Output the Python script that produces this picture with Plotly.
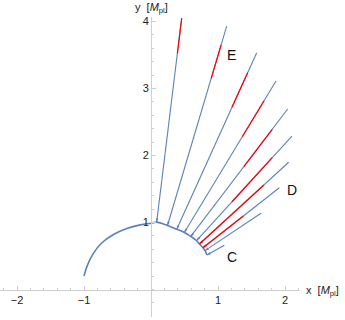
import math
import plotly.graph_objects as go

# ---- data ----
# unit-circle-like arc (field-space boundary)
arc_x = [-1.00, -0.95, -0.86, -0.74, -0.56, -0.36, -0.16, 0.00, 0.085, 0.246, 0.384, 0.497, 0.594, 0.680, 0.724, 0.776, 0.806, 0.836]
arc_y = [0.20, 0.36, 0.54, 0.69, 0.82, 0.91, 0.965, 0.99, 1.005, 0.955, 0.900, 0.852, 0.792, 0.730, 0.680, 0.624, 0.580, 0.515]

# trajectories: start on the arc, end outside
start_x = [0.085, 0.246, 0.384, 0.497, 0.594, 0.680, 0.724, 0.776, 0.806, 0.836]
start_y = [1.005, 0.955, 0.900, 0.852, 0.792, 0.730, 0.680, 0.624, 0.580, 0.515]
end_x = [0.458, 1.130, 1.578, 1.866, 2.040, 2.104, 2.055, 1.915, 1.642, 1.094]
end_y = [4.048, 3.930, 3.534, 3.112, 2.694, 2.291, 1.899, 1.519, 1.137, 0.660]

# red portions (given by y range along each trajectory); None = no red part
red_y0 = [3.525, 3.152, 2.719, 2.280, 1.833, 1.310, 0.680, 0.624, None, None]
red_y1 = [4.048, 3.649, 3.236, 2.818, 2.391, 1.967, 1.560, 1.097, None, None]

# point labels
label_text = ["E", "D", "C"]
label_x = [1.20, 2.11, 1.21]
label_y = [3.50, 1.48, 0.48]

x_tickvals = [-2, -1, 1, 2]
x_ticktext = ["\u22122", "\u22121", "1", "2"]
y_tickvals = [1, 2, 3, 4]
y_ticktext = ["1", "2", "3", "4"]

BLUE = "#5e81b5"
RED = "#ff0000"
AXIS = "#cfcfcf"

XMIN, XMAX = -2.2537, 2.2239
YMIN, YMAX = -0.4104, 4.0672

fig = go.Figure()

fig.add_trace(go.Scatter(x=arc_x, y=arc_y, mode="lines",
                         line=dict(color=BLUE, width=1.6, shape="spline"),
                         hoverinfo="skip"))

for i in range(len(start_x)):
    fig.add_trace(go.Scatter(x=[start_x[i], end_x[i]], y=[start_y[i], end_y[i]],
                             mode="lines", line=dict(color=BLUE, width=1.1),
                             hoverinfo="skip"))
    if red_y0[i] is not None:
        def xat(yv, i=i):
            t = (yv - start_y[i]) / (end_y[i] - start_y[i])
            return start_x[i] + t * (end_x[i] - start_x[i])
        fig.add_trace(go.Scatter(x=[xat(red_y0[i]), xat(red_y1[i])],
                                 y=[red_y0[i], red_y1[i]],
                                 mode="lines", line=dict(color=RED, width=1.2),
                                 hoverinfo="skip"))

angles = []
mcolors = []
for i in range(len(start_x)):
    dx = start_x[i] - end_x[i]
    dy = start_y[i] - end_y[i]
    angles.append(math.degrees(math.atan2(dx, dy)))
    mcolors.append(RED if (red_y0[i] is not None and abs(red_y0[i] - start_y[i]) < 0.02) else BLUE)

fig.add_trace(go.Scatter(x=start_x, y=start_y, mode="markers",
                         marker=dict(symbol="arrow", size=4, angle=angles,
                                     color=mcolors, line=dict(width=0)),
                         hoverinfo="skip"))

for t, lx, ly in zip(label_text, label_x, label_y):
    fig.add_annotation(x=lx, y=ly, text=t, showarrow=False,
                       font=dict(size=14, color="#111"))

fig.add_annotation(xref="paper", x=1, yref="y", y=0, xanchor="left",
                   xshift=4, yshift=-1,
                   text="x  [<i>M</i><sub>pl</sub>]", showarrow=False,
                   font=dict(size=11, color="#222"))
fig.add_annotation(xref="x", x=0, yref="paper", y=1, yanchor="bottom",
                   yshift=0, text="y  [<i>M</i><sub>pl</sub>]", showarrow=False,
                   font=dict(size=11, color="#222"))

fig.update_layout(
    width=345, height=320,
    margin=dict(l=0, r=45, t=17, b=3),
    plot_bgcolor="white", paper_bgcolor="white",
    showlegend=False,
    font=dict(family="Liberation Sans, Arial, sans-serif", size=11, color="#222"),
)

fig.update_xaxes(range=[XMIN, XMAX], anchor="free",
                 position=(0 - YMIN) / (YMAX - YMIN),
                 showline=True, linecolor=AXIS, linewidth=1,
                 ticks="inside", ticklen=4, tickcolor=AXIS,
                 tickvals=x_tickvals, ticktext=x_ticktext,
                 showgrid=False, zeroline=False, automargin=False,
                 minor=dict(tickmode="linear", tick0=0, dtick=0.2,
                            ticks="inside", ticklen=2, tickcolor=AXIS))
fig.update_yaxes(range=[YMIN, YMAX], anchor="free",
                 position=(0 - XMIN) / (XMAX - XMIN),
                 showline=True, linecolor=AXIS, linewidth=1,
                 ticks="inside", ticklen=4, tickcolor=AXIS,
                 tickvals=y_tickvals, ticktext=y_ticktext,
                 showgrid=False, zeroline=False, automargin=False,
                 minor=dict(tickmode="linear", tick0=0, dtick=0.2,
                            ticks="inside", ticklen=2, tickcolor=AXIS))

fig.write_html("out.html",
               config={"displayModeBar": False, "staticPlot": True},
               post_script="document.body.style.margin='0';document.body.style.padding='0';")
